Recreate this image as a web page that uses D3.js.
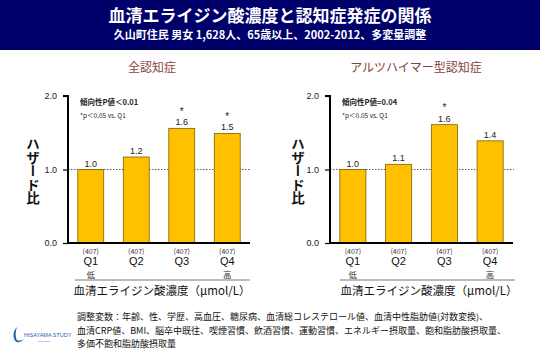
<!DOCTYPE html>
<html><head><meta charset="utf-8">
<script src="https://cdn.jsdelivr.net/npm/d3@7"></script>
<style>
html,body{margin:0;padding:0;background:#fff;}
svg{display:block;font-family:"Noto Sans CJK JP","Noto Sans",sans-serif;}
</style></head>
<body>
<svg id="c" width="540" height="360"></svg>
<script>
const categories = ["Q1","Q2","Q3","Q4"];
const counts = ["(407)","(407)","(407)","(407)"];
const levels = ["低","","","高"];
const allDementia = [1.0, 1.17, 1.56, 1.49];
const allDementiaSig = [false, false, true, true];
const alzheimer = [1.0, 1.07, 1.61, 1.39];
const alzheimerSig = [false, false, true, false];
const yTicks = [0, 1, 2];
const panelTitles = ["全認知症", "アルツハイマー型認知症"];
const trendP = ["傾向性P値＜0.01", "傾向性P値=0.04"];
const sigNote = "*p＜0.05 vs. Q1";
const yTitle = "ハザード比";
const xTitle = "血清エライジン酸濃度（μmol/L）";
const title = "血清エライジン酸濃度と認知症発症の関係";
const subtitle = "久山町住民 男女 1,628人、65歳以上、2002-2012、多変量調整";
const notes = [
  "調整変数：年齢、性、学歴、高血圧、糖尿病、血清総コレステロール値、血清中性脂肪値(対数変換)、",
  "血清CRP値、BMI、脳卒中既往、喫煙習慣、飲酒習慣、運動習慣、エネルギー摂取量、飽和脂肪酸摂取量、",
  "多価不飽和脂肪酸摂取量"
];

const svg = d3.select("#c");

// header
svg.append("rect").attr("x",0).attr("y",0).attr("width",540).attr("height",50).attr("fill","#00006b");
svg.append("text").attr("x",270).attr("y",22).attr("text-anchor","middle")
  .attr("fill","#fff").attr("font-size",17).attr("font-weight","bold").text(title);
svg.append("text").attr("x",270).attr("y",39).attr("text-anchor","middle")
  .attr("fill","#fff").attr("font-size",11).attr("font-weight","bold").text(subtitle);

function drawPanel(opts){
  const {x0, x1, values, sig, ptitle, ptext, ytx, sepX0, sepX1, titleX, xtitleX} = opts;
  const g = svg.append("g");
  const y = d3.scaleLinear().domain([0,2]).range([243,96]);
  const x = d3.scaleBand().domain(categories).range([x0, x1]).paddingInner(0.43).paddingOuter(0.215);

  g.append("text").attr("x",titleX).attr("y",72).attr("text-anchor","middle")
    .attr("fill","#8b4040").attr("font-size",12).text(ptitle);

  // dotted reference
  g.append("line").attr("x1",x0).attr("x2",x1+1).attr("y1",y(1)).attr("y2",y(1))
    .attr("stroke","#333").attr("stroke-width",0.8).attr("stroke-dasharray","1.5,1.5");

  // bars
  g.selectAll("rect.bar").data(values).join("rect").attr("class","bar")
    .attr("x",(d,i)=>x(categories[i])).attr("width",x.bandwidth())
    .attr("y",d=>y(d)).attr("height",d=>y(0)-y(d))
    .attr("fill","#ffc000").attr("stroke","#806000").attr("stroke-width",0.8);

  // value labels
  g.selectAll("text.val").data(values).join("text").attr("class","val")
    .attr("x",(d,i)=>x(categories[i])+x.bandwidth()/2).attr("y",d=>y(d)-3)
    .attr("text-anchor","middle").attr("font-size",9).attr("fill","#222")
    .attr("font-family","Liberation Sans, Arial, sans-serif")
    .text(d=>d.toFixed(1));
  g.selectAll("text.sig").data(values.filter((d,i)=>sig[i]).map(d=>({v:d,i:values.indexOf(d)})))
    .join("text").attr("class","sig")
    .attr("x",d=>x(categories[d.i])+x.bandwidth()/2).attr("y",d=>y(d.v)-13.5)
    .attr("text-anchor","middle").attr("font-size",10).attr("fill","#222")
    .attr("font-family","Liberation Sans, Arial, sans-serif")
    .text("*");

  // y axis
  const ya = d3.axisLeft(y).tickValues(yTicks).tickFormat(d3.format(".1f")).tickSize(5).tickPadding(6);
  const yg = g.append("g").attr("transform",`translate(${x0},0)`).call(ya);
  yg.select(".domain").attr("stroke","#000").attr("stroke-width",2).attr("d",`M-5,${y(2)}H0V${y(0)}`);
  yg.selectAll(".tick line").attr("stroke","#000").attr("stroke-width",1.2);
  yg.selectAll(".tick text").attr("font-size",9).attr("fill","#222")
    .attr("font-family","Liberation Sans, Arial, sans-serif");

  // x axis baseline
  const xa = d3.axisBottom(x).tickSize(0).tickFormat(()=>"");
  const xg = g.append("g").attr("transform",`translate(0,${y(0)})`).call(xa);
  xg.select(".domain").attr("stroke","#000").attr("stroke-width",2).attr("d",`M${x0-1},0H${x1}`);

  // x labels
  categories.forEach((c,i)=>{
    const cx = x(c)+x.bandwidth()/2;
    g.append("text").attr("x",cx).attr("y",253.5).attr("text-anchor","middle")
      .attr("font-size",7).attr("fill","#333").text(counts[i]);
    g.append("text").attr("x",cx).attr("y",265).attr("text-anchor","middle")
      .attr("font-size",11).attr("fill","#111").attr("font-family","Liberation Sans, Arial, sans-serif").text(c);
    if(levels[i]) g.append("text").attr("x",cx).attr("y",277.5).attr("text-anchor","middle")
      .attr("font-size",8.5).attr("fill","#333").text(levels[i]);
  });

  g.append("line").attr("x1",sepX0).attr("x2",sepX1).attr("y1",280).attr("y2",280)
    .attr("stroke","#555").attr("stroke-width",0.8);
  g.append("text").attr("x",xtitleX).attr("y",295).attr("text-anchor","middle")
    .attr("font-size",11.5).attr("fill","#111").text(xTitle);

  // annotations
  g.append("text").attr("x",x0+12).attr("y",105).attr("font-size",7.5).attr("font-weight","bold")
    .attr("fill","#222").text(ptext);
  g.append("text").attr("x",x0+12).attr("y",118).attr("font-size",6.5)
    .attr("fill","#222").text(sigNote);

  // vertical y title
  g.append("text").attr("x",ytx).attr("y",171).attr("text-anchor","middle")
    .style("writing-mode","vertical-rl").style("glyph-orientation-vertical","0")
    .attr("font-size",13.5).attr("font-weight","bold").attr("fill","#111").text(yTitle);
}

drawPanel({x0:68, x1:250, values:allDementia, sig:allDementiaSig, ptitle:panelTitles[0], ptext:trendP[0],
  ytx:33, sepX0:75, sepX1:250, titleX:152, xtitleX:162});
drawPanel({x0:330, x1:513, values:alzheimer, sig:alzheimerSig, ptitle:panelTitles[1], ptext:trendP[1],
  ytx:298, sepX0:340, sepX1:515, titleX:416, xtitleX:429});

// notes
notes.forEach((n,i)=>{
  svg.append("text").attr("x",77).attr("y",320+i*13.5).attr("font-size",9).attr("fill","#111").text(n);
});

// logo
const logo = svg.append("g");
logo.append("path").attr("d","M17,327 C12,332 12,340 19,343 C15,339 15,333 17,327 Z").attr("fill","#2a5db0");
logo.append("path").attr("d","M13,339 C16,343 21,343 24,339 C21,341 16,341 13,339 Z").attr("fill","#2a5db0");
logo.append("text").attr("x",24).attr("y",337).attr("font-size",5.5).attr("fill","#2a5db0")
  .attr("font-family","Liberation Sans, Arial, sans-serif").text("HISAYAMA STUDY");
logo.append("text").attr("x",44).attr("y",342).attr("text-anchor","middle").attr("font-size",2.5).attr("fill","#2a5db0")
  .attr("font-family","Liberation Sans, Arial, sans-serif").text("since 1961");
</script>
</body></html>
